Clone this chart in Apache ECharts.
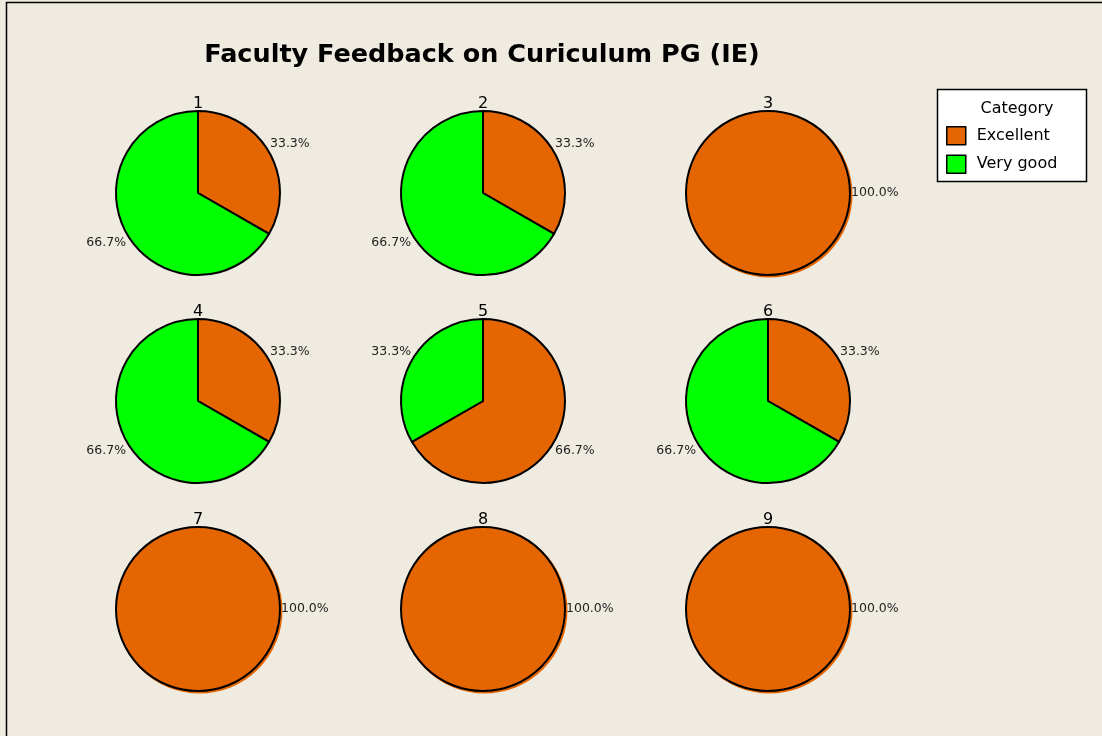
<!DOCTYPE html>
<html>
<head>
<meta charset="utf-8">
<title>Faculty Feedback on Curiculum PG (IE)</title>
<script src="https://cdn.jsdelivr.net/npm/echarts@6/dist/echarts.min.js"></script>
<style>
  html, body { margin: 0; padding: 0; background: #efebe1; }
  #chart { width: 1102px; height: 736px; }
</style>
</head>
<body>
<div id="chart"></div>
<script>
const categories = ['Excellent', 'Very good']
const questions = ['1', '2', '3', '4', '5', '6', '7', '8', '9']
// percentage of responses per question
const excellent = [33.3, 33.3, 100, 33.3, 66.7, 33.3, 100, 100, 100]
const veryGood = [66.7, 66.7, 0, 66.7, 33.3, 66.7, 0, 0, 0]

const colors = { 'Excellent': '#e56600', 'Very good': '#00ff00' }
const colX = [198, 483, 768]
const rowY = [193, 401, 609]
const R = 82
const font = 'DejaVu Sans, Verdana, sans-serif'

const chart = echarts.init(document.getElementById('chart'))

const series = questions.map((q, i) => {
  const cx = colX[i % 3]
  const cy = rowY[Math.floor(i / 3)]
  const values = [excellent[i], veryGood[i]]
  const data = categories
    .map((name, k) => ({ name, value: values[k], itemStyle: { color: colors[name] } }))
    .filter(d => d.value > 0)
  const single = data.length === 1
  return {
    type: 'pie',
    name: q,
    center: [cx, cy],
    radius: R,
    // a full slice: start at left so its label sits on the right
    startAngle: single ? 180 : 90,
    clockwise: true,
    avoidLabelOverlap: false,
    silent: true,
    animation: false,
    percentPrecision: 1,
    itemStyle: {
      borderColor: '#000',
      borderWidth: 2,
      shadowColor: single ? '#e56600' : 'transparent',
      shadowOffsetX: single ? 1.5 : 0,
      shadowOffsetY: single ? 1.5 : 0,
      shadowBlur: 0
    },
    label: {
      show: true,
      position: 'outside',
      distanceToLabelLine: 1,
      fontFamily: font,
      fontSize: 12.5,
      color: '#222',
      formatter: p => p.percent.toFixed(1) + '%'
    },
    labelLine: { show: false, length: 0, length2: 0 },
    labelLayout: params => {
      const r = params.labelRect
      const ly = r.y + r.height / 2
      return { dy: (ly - cy) / R * 17 }
    },
    data
  }
})

const titles = [{
  text: 'Faculty Feedback on Curiculum PG (IE)',
  left: 482,
  top: 42,
  textAlign: 'center',
  padding: 0,
  textStyle: { fontFamily: font, fontSize: 25.5, fontWeight: 'bold', color: '#000' }
}]
questions.forEach((q, i) => {
  titles.push({
    text: q,
    left: colX[i % 3],
    top: rowY[Math.floor(i / 3)] - R - 15,
    textAlign: 'center',
    padding: 0,
    textStyle: { fontFamily: font, fontSize: 16, fontWeight: 'normal', color: '#000' }
  })
})
titles.push({
  text: 'Category',
  left: 1017,
  top: 101,
  textAlign: 'center',
  padding: 0,
  z: 10,
  textStyle: { fontFamily: font, fontSize: 16, fontWeight: 'normal', color: '#000' }
})

chart.setOption({
  backgroundColor: '#efebe1',
  animation: false,
  title: titles,
  legend: {
    data: categories,
    orient: 'vertical',
    left: 946,
    top: 126,
    padding: 0,
    itemWidth: 19,
    itemHeight: 18,
    itemGap: 9,
    icon: 'rect',
    selectedMode: false,
    z: 8,
    itemStyle: { borderColor: '#000', borderWidth: 1.5, shadowColor: 'transparent' },
    textStyle: { fontFamily: font, fontSize: 16, color: '#000', padding: [0, 0, 0, 6] }
  },
  graphic: [
    {
      type: 'rect',
      z: 1,
      shape: { x: 6.5, y: 2.5, width: 1200, height: 800 },
      style: { fill: 'none', stroke: '#000', lineWidth: 1.5 }
    },
    {
      type: 'rect',
      z: 2,
      shape: { x: 937.5, y: 89.5, width: 149, height: 92 },
      style: { fill: '#fff', stroke: '#000', lineWidth: 1.5 }
    }
  ],
  series
})
</script>
</body>
</html>
